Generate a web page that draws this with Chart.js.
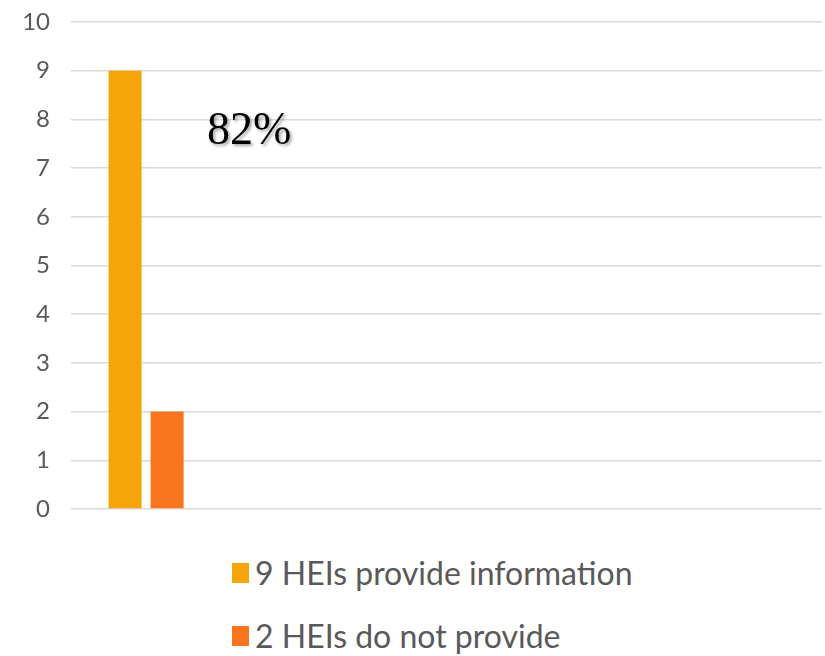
<!DOCTYPE html>
<html>
<head>
<meta charset="utf-8">
<script src="https://cdn.jsdelivr.net/npm/chart.js@4.4.1/dist/chart.umd.min.js"></script>
<style>
  body { margin: 0; background: #fff; }
  #wrap { position: relative; width: 825px; height: 656px; overflow: hidden; }
  #box { position: absolute; left: 0; top: 0; width: 825px; height: 525px; }
  #legend { position: absolute; left: 232px; top: 541px; font-family: Lato, "Open Sans", sans-serif; font-size: 32px; color: #595959; }
  #legend div { display: flex; align-items: center; height: 63px; }
  #legend span.sw { display: inline-block; width: 17px; height: 20px; margin-right: 6px; }
</style>
</head>
<body>
<div id="wrap">
  <div id="box"><canvas id="chart" width="825" height="525"></canvas></div>
  <div id="legend"></div>
</div>
<script>
// one real category; the empty ones only keep the bars at the left like in the original
const categories = ['', '', '', '', ''];
const provideValues = [9];
const notProvideValues = [2];
const seriesLabels = ['9 HEIs provide information', '2 HEIs do not provide'];
const seriesColors = ['#F5A40A', '#FA761E'];
const yTicks = [0, 1, 2, 3, 4, 5, 6, 7, 8, 9, 10];
const shareText = '82%';

const sharePlugin = {
  id: 'share',
  afterDraw(chart) {
    const c = chart.ctx;
    const y = chart.scales.y;
    c.save();
    c.font = '46px "Liberation Serif", "Times New Roman", serif';
    c.fillStyle = '#000';
    c.shadowColor = 'rgba(0,0,0,0.35)';
    c.shadowOffsetX = 2;
    c.shadowOffsetY = 2;
    c.shadowBlur = 3;
    c.textBaseline = 'alphabetic';
    c.fillText(shareText, chart.chartArea.left + 136, y.getPixelForValue(7.5));
    c.restore();
  }
};

const ctx = document.getElementById('chart').getContext('2d');
const chart = new Chart(ctx, {
  type: 'bar',
  data: {
    labels: categories,
    datasets: [
      { label: seriesLabels[0], backgroundColor: seriesColors[0], data: provideValues },
      { label: seriesLabels[1], backgroundColor: seriesColors[1], data: notProvideValues }
    ]
  },
  options: {
    responsive: false,
    animation: false,
    categoryPercentage: 0.56,
    barPercentage: 0.786,
    layout: { padding: { left: 0, right: 3, top: 22, bottom: 16 } },
    plugins: { legend: { display: false }, tooltip: { enabled: false } },
    scales: {
      x: {
        display: false
      },
      y: {
        min: 0,
        max: 10,
        afterFit: s => { s.width = 71; },
        afterBuildTicks: s => { s.ticks = yTicks.map(v => ({ value: v })); },
        ticks: { color: '#595959', padding: 1, font: { family: 'Lato', size: 24 } },
        grid: { color: '#D9D9D9', lineWidth: 1.5, drawTicks: true, tickLength: 20, tickColor: 'rgba(0,0,0,0)' },
        border: { display: false }
      }
    }
  },
  plugins: [sharePlugin]
});

const legend = document.getElementById('legend');
chart.data.datasets.forEach(ds => {
  const row = document.createElement('div');
  row.innerHTML = `<span class="sw" style="background:${ds.backgroundColor}"></span>${ds.label}`;
  legend.appendChild(row);
});
</script>
</body>
</html>
